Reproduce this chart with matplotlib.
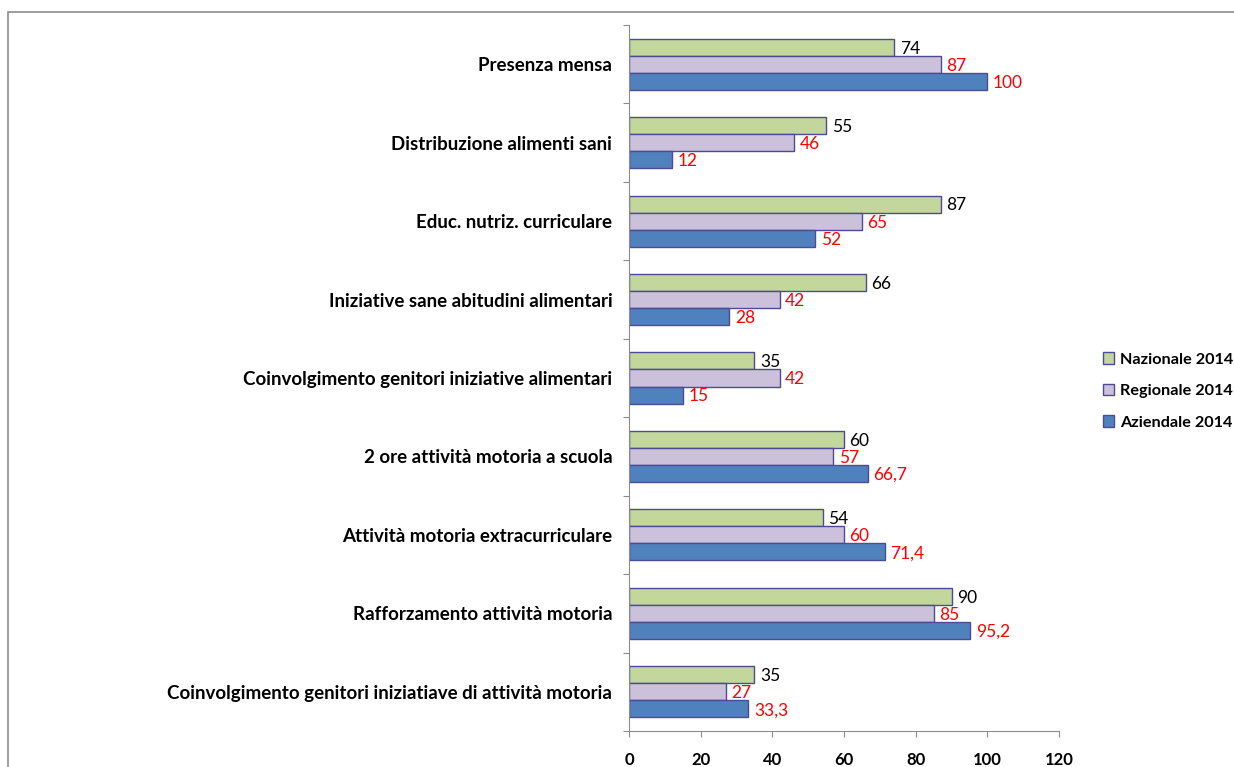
import numpy as np
import matplotlib.pyplot as plt
from matplotlib.patches import Rectangle

plt.rcParams['font.family'] = ['Lato', 'DejaVu Sans']

categories = ['Presenza mensa',
              'Distribuzione alimenti sani',
              'Educ. nutriz. curriculare',
              'Iniziative sane abitudini alimentari',
              'Coinvolgimento genitori iniziative alimentari',
              '2 ore attività motoria a scuola',
              'Attività motoria extracurriculare',
              'Rafforzamento attività motoria',
              'Coinvolgimento genitori iniziatiave di attività motoria']
nazionale = [74, 55, 87, 66, 35, 60, 54, 90, 35]
regionale = [87, 46, 65, 42, 42, 57, 60, 85, 27]
aziendale = [100, 12, 52, 28, 15, 66.7, 71.4, 95.2, 33.3]
series_names = ['Nazionale 2014', 'Regionale 2014', 'Aziendale 2014']
x_ticks = [0, 20, 40, 60, 80, 100, 120]

colors = ['#c3d69b', '#ccc1da', '#4f81bd']
label_colors = ['black', 'red', 'red']
edge = '#4b4b96'

fig = plt.figure(figsize=(12.34, 7.67), dpi=100)
# outer chart frame
fig.patches.append(Rectangle((8 / 1234, -0.5), 2, 1.5 - 12 / 767, transform=fig.transFigure,
                             fill=False, edgecolor='#8c8c8c', linewidth=1.2))
ax = fig.add_axes([629 / 1234, 1 - 731 / 767, (1059 - 629) / 1234, (731 - 25) / 767])

n = len(categories)
y = np.arange(n)
h = 0.217
data = [nazionale, regionale, aziendale]
offsets = [-h, 0, h]
bars = []
for vals, off, c, lc in zip(data, offsets, colors, label_colors):
    b = ax.barh(y + off, vals, height=h, color=c, edgecolor=edge, linewidth=1)
    bars.append(b)
    for yi, v in zip(y, vals):
        txt = ('%g' % v).replace('.', ',')
        ax.annotate(txt, (v, yi + off), xytext=(4, -1), textcoords='offset points',
                    va='center', ha='left', color=lc, fontsize=12.5)

ax.set_ylim(n - 0.5, -0.5)
ax.set_xlim(0, 120)
ax.set_xticks(x_ticks)
ax.set_xticklabels([str(t) for t in x_ticks], fontweight='bold', fontsize=12)
ax.set_yticks(np.arange(n + 1) - 0.5)
ax.set_yticklabels([])
ax.set_yticks(y, minor=True)
ax.set_yticklabels(categories, minor=True, fontweight='bold', fontsize=13.5)
ax.tick_params(axis='y', which='minor', length=0, pad=12)
ax.tick_params(axis='y', which='major', length=4, color='#8c8c8c')
ax.tick_params(axis='x', length=4, color='#8c8c8c', pad=11)
for s in ['top', 'right']:
    ax.spines[s].set_visible(False)
ax.spines['left'].set_color('#8c8c8c')
ax.spines['bottom'].set_color('#8c8c8c')

leg = fig.legend(bars, series_names, loc='center left', bbox_to_anchor=(1096 / 1234, 1 - 391 / 767),
                 frameon=False, prop={'weight': 'bold', 'size': 11.7}, handlelength=0.7,
                 handleheight=0.7, handletextpad=0.4, labelspacing=1.05, borderaxespad=0)

fig.savefig('out.png', dpi=100)
